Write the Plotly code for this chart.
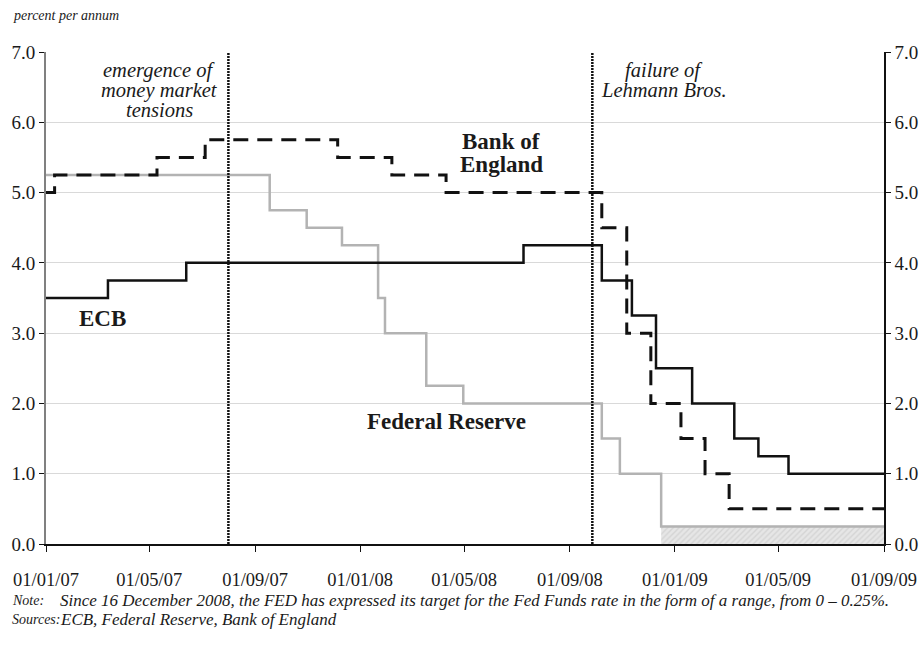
import plotly.graph_objects as go

# ---------------- data ----------------
ecb_dates = ["2007-01-01", "2007-03-14", "2007-06-13", "2008-07-09", "2008-10-08",
             "2008-11-12", "2008-12-10", "2009-01-21", "2009-03-11", "2009-04-08",
             "2009-05-13", "2009-09-01"]
ecb_rates = [3.50, 3.75, 4.00, 4.25, 3.75, 3.25, 2.50, 2.00, 1.50, 1.25, 1.00, 1.00]

fed_dates = ["2007-01-01", "2007-09-18", "2007-10-31", "2007-12-11", "2008-01-22",
             "2008-01-30", "2008-03-18", "2008-04-30", "2008-10-08", "2008-10-29",
             "2008-12-16", "2009-09-01"]
fed_rates = [5.25, 4.75, 4.50, 4.25, 3.50, 3.00, 2.25, 2.00, 1.50, 1.00, 0.25, 0.25]

boe_dates = ["2007-01-01", "2007-01-11", "2007-05-10", "2007-07-05", "2007-12-06",
             "2008-02-07", "2008-04-10", "2008-10-08", "2008-11-06", "2008-12-04",
             "2009-01-08", "2009-02-05", "2009-03-05", "2009-09-01"]
boe_rates = [5.00, 5.25, 5.50, 5.75, 5.50, 5.25, 5.00, 4.50, 3.00, 2.00, 1.50, 1.00, 0.50, 0.50]

fed_range_dates = ["2008-12-16", "2009-09-01"]
fed_range_upper = [0.25, 0.25]

event_dates = ["2007-08-01", "2008-09-27"]
event_labels = [["emergence of", "money market", "tensions"], ["failure of", "Lehmann Bros."]]

x_range = ["2007-01-01", "2009-09-01"]
y_range = [0, 7]

SERIF = "Liberation Serif, Times New Roman, serif"

fig = go.Figure()

# Fed range band (hatched)
fig.add_trace(go.Scatter(
    x=fed_range_dates, y=fed_range_upper, mode="lines", line=dict(color="#c0c0c0", width=1),
    fill="tozeroy", fillcolor="rgba(0,0,0,0)",
    fillpattern=dict(shape="/", fgcolor="#c2c2c2", bgcolor="#e6e6e6", size=4, solidity=0.35),
    hoverinfo="skip", showlegend=False))

fig.add_trace(go.Scatter(x=fed_dates, y=fed_rates, mode="lines", line_shape="hv",
                         line=dict(color="#b3b3b3", width=2.5), showlegend=False))
fig.add_trace(go.Scatter(x=ecb_dates, y=ecb_rates, mode="lines", line_shape="hv",
                         line=dict(color="#111111", width=2.5), showlegend=False))
fig.add_trace(go.Scatter(x=boe_dates, y=boe_rates, mode="lines", line_shape="hv",
                         line=dict(color="#111111", width=3, dash="15px,9px"), showlegend=False))

for d in event_dates:
    fig.add_trace(go.Scatter(x=[d, d], y=y_range, mode="lines",
                             line=dict(color="#111111", width=2.5, dash="2px,1px"),
                             hoverinfo="skip", showlegend=False))

# invisible trace for right axis
fig.add_trace(go.Scatter(x=x_range, y=y_range, yaxis="y2", mode="lines",
                         line=dict(width=0), opacity=0, hoverinfo="skip", showlegend=False))

W, H = 923, 651
PL, PR, PT, PB = 46, 884, 52, 544          # plot area in window pixels
L, T, R, B = PL, PT, W - PR, H - PB
pw, ph = W - L - R, H - T - B

def px(x):
    return (x - L) / pw

def py(y):
    return (H - B - y) / ph

ann = []
def add_text(text, x, y, size, italic=False, bold=False, xanchor="center", yanchor="middle"):
    t = text
    if bold:
        t = "<b>" + t + "</b>"
    if italic:
        t = "<i>" + t + "</i>"
    ann.append(dict(text=t, x=px(x), y=py(y), xref="paper", yref="paper", showarrow=False,
                    xanchor=xanchor, yanchor=yanchor,
                    font=dict(family=SERIF, size=size, color="#1a1a1a")))

# event labels
for i, yy in enumerate([70, 90, 110]):
    add_text(event_labels[0][i], 159, yy, 20.5, italic=True)
for i, yy in enumerate([70, 90]):
    add_text(event_labels[1][i], 664, yy, 20.5, italic=True)

add_text("Bank of", 501, 141, 23, bold=True)
add_text("England", 501, 165, 23, bold=True)
add_text("ECB", 102, 318, 23, bold=True)
add_text("Federal Reserve", 446, 421, 23, bold=True)

add_text("percent per annum", 11, 15, 14, italic=True, xanchor="left")
add_text("Note:", 10, 600, 14, italic=True, xanchor="left")
add_text("Since 16 December 2008, the FED has expressed its target for the Fed Funds rate in the form of a range, from 0 \u2013 0.25%.",
         58, 600, 17, italic=True, xanchor="left")
add_text("Sources:", 10, 619, 14, italic=True, xanchor="left")
add_text("ECB, Federal Reserve, Bank of England", 58, 619, 17, italic=True, xanchor="left")

fig.update_layout(
    width=W, height=H,
    margin=dict(l=L, r=R, t=T, b=B, pad=0),
    paper_bgcolor="white", plot_bgcolor="white",
    showlegend=False,
    annotations=ann,
    font=dict(family=SERIF, size=18, color="#1a1a1a"),
    xaxis=dict(type="date", range=x_range, tick0="2007-01-01", dtick="M4",
               tickformat="%d/%m/%y", ticks="outside", ticklen=6, tickcolor="#111",
               showline=True, linecolor="#111", linewidth=1.5, showgrid=False,
               automargin=False, ticklabelstandoff=12,
               tickfont=dict(family=SERIF, size=18.5)),
    yaxis=dict(range=y_range, dtick=1, tickformat=".1f", ticks="outside", ticklen=5,
               tickcolor="#111", showline=True, linecolor="#808080", linewidth=2,
               gridcolor="#d9d9d9", gridwidth=1, zeroline=False, automargin=False,
               tickfont=dict(family=SERIF, size=19)),
    yaxis2=dict(range=y_range, dtick=1, tickformat=".1f", overlaying="y", side="right",
                ticks="outside", ticklen=5, tickcolor="#111", showline=True,
                linecolor="#111", linewidth=1.5, showgrid=False, zeroline=False,
                automargin=False, tickfont=dict(family=SERIF, size=19)),
)

fig.write_html("out.html", config={"displayModeBar": False},
               post_script="document.body.style.margin='0';document.body.style.overflow='hidden';")
